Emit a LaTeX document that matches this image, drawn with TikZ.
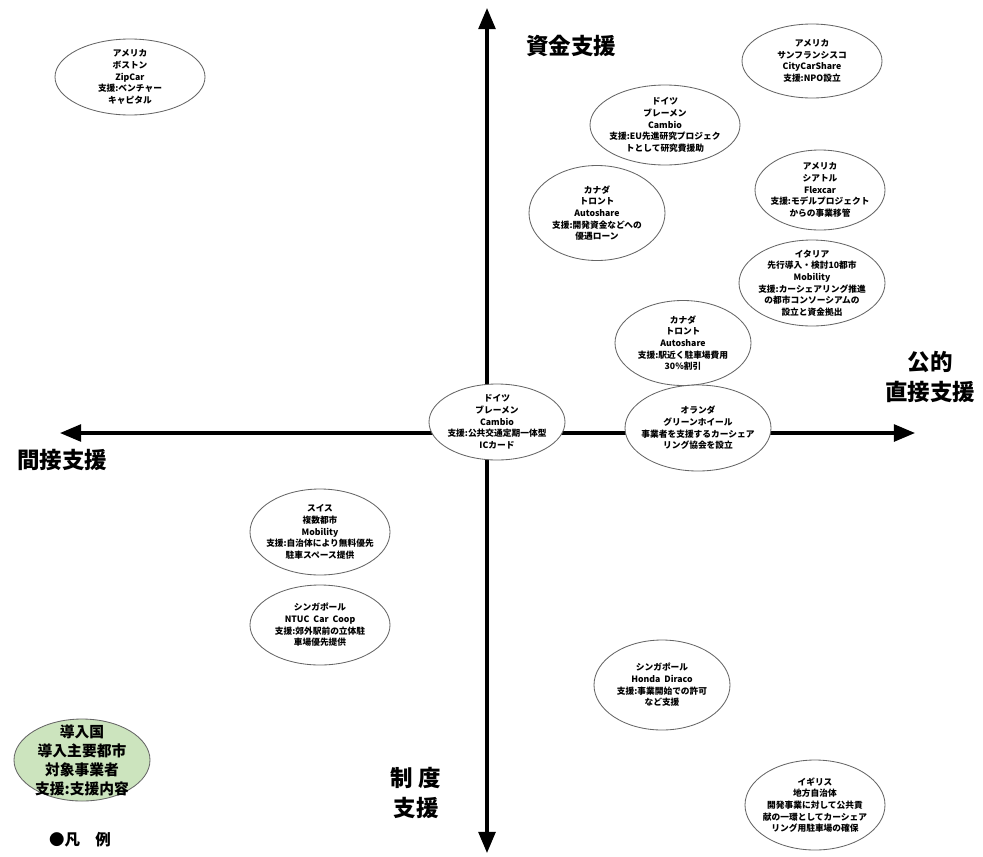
\documentclass[tikz,border=0pt]{standalone}
\usepackage{fontspec}
\setmainfont{Noto Sans CJK JP}
\usetikzlibrary{arrows.meta,shapes.geometric}
\definecolor{legendgreen}{RGB}{204,228,190}

\begin{document}
\begin{tikzpicture}[x=0.025cm, y=-0.025cm,
  case/.style={ellipse, draw=black!60, line width=0.6pt, fill=white, inner sep=0pt},
  legendcase/.style={case, fill=legendgreen},
  dims/.style 2 args={minimum width=#1*0.025cm, minimum height=#2*0.025cm},
  info/.style={align=center, font=\fontsize{6.2}{8.3}\selectfont\bfseries},
  axis/.style={line width=2.2pt, {Triangle[length=15pt,width=12pt]}-{Triangle[length=15pt,width=12pt]}},
  axlabel/.style={font=\fontsize{16}{21}\selectfont\bfseries, align=center}
]
\useasboundingbox (0,0) rectangle (983,856);

% the two axes
\coordinate (north) at (487,8);
\coordinate (south) at (487,853);
\coordinate (west) at (60,433);
\coordinate (east) at (915,433);
\draw[axis] (north) -- (south);
\draw[axis] (west) -- (east);

% axis labels
\node[axlabel] (fund) at (571,46) {資金支援};
\node[axlabel] (direct) at (930,377) {公的\\直接支援};
\node[axlabel] (indirect) at (62,460) {間接支援};
\node[axlabel] (system) at (416,793) {制\ 度\\支援};

% cases
\node[case, dims={150}{76}] (boston) at (130,77) {};
\node[info] at (boston) {アメリカ\\ボストン\\ZipCar\\支援:ベンチャー\\キャピタル};

\node[case, dims={140}{74}] (sanfran) at (812,61) {};
\node[info] at (sanfran) {アメリカ\\サンフランシスコ\\CityCarShare\\支援:NPO設立};

\node[case, dims={150}{80}] (bremenA) at (665,125) {};
\node[info] at (bremenA) {ドイツ\\ブレーメン\\Cambio\\支援:EU先進研究プロジェク\\トとして研究費援助};

\node[case, dims={136}{95}] (torontoA) at (597,213) {};
\node[info] at (torontoA) {カナダ\\トロント\\Autoshare\\支援:開発資金などへの\\優遇ローン};

\node[case, dims={130}{80}] (seattle) at (820,190) {};
\node[info] at (seattle) {アメリカ\\シアトル\\Flexcar\\支援:モデルプロジェクト\\からの事業移管};

\node[case, dims={146}{86}] (italy) at (812,283) {};
\node[info] at (italy) {イタリア\\先行導入・検討10都市\\Mobility\\支援:カーシェアリング推進\\の都市コンソーシアムの\\設立と資金拠出};

\node[case, dims={136}{85}] (torontoB) at (683,343) {};
\node[info] at (torontoB) {カナダ\\トロント\\Autoshare\\支援:駅近く駐車場費用\\30\%割引};

\node[case, dims={136}{76}] (bremenB) at (497,422) {};
\node[info] at (bremenB) {ドイツ\\ブレーメン\\Cambio\\支援:公共交通定期一体型\\ICカード};

\node[case, dims={146}{86}] (holland) at (698,428) {};
\node[info] at (holland) {オランダ\\グリーンホイール\\事業者を支援するカーシェア\\リング協会を設立};

\node[case, dims={140}{86}] (swiss) at (320,532) {};
\node[info] at (swiss) {スイス\\複数都市\\Mobility\\支援:自治体により無料優先\\駐車スペース提供};

\node[case, dims={140}{80}] (singA) at (320,625) {};
\node[info] at (singA) {シンガポール\\NTUC\ \ Car\ \ Coop\\支援:郊外駅前の立体駐\\車場優先提供};

\node[case, dims={136}{90}] (singB) at (662,685) {};
\node[info] at (singB) {シンガポール\\Honda\ \ Diraco\\支援:事業開始での許可\\など支援};

\node[case, dims={140}{90}] (uk) at (815,805) {};
\node[info] at (uk) {イギリス\\地方自治体\\開発事業に対して公共貢\\献の一環としてカーシェア\\リング用駐車場の確保};

% legend
\node[legendcase, dims={136}{82}] (legend) at (82,760) {};
\node[align=center, font=\fontsize{10.5}{13.5}\selectfont\bfseries] at (legend) {導入国\\導入主要都市\\対象事業者\\支援:支援内容};
\node[font=\fontsize{11}{13}\selectfont\bfseries] (legendtitle) at (80,840) {●凡\quad 例};
\end{tikzpicture}
\end{document}
